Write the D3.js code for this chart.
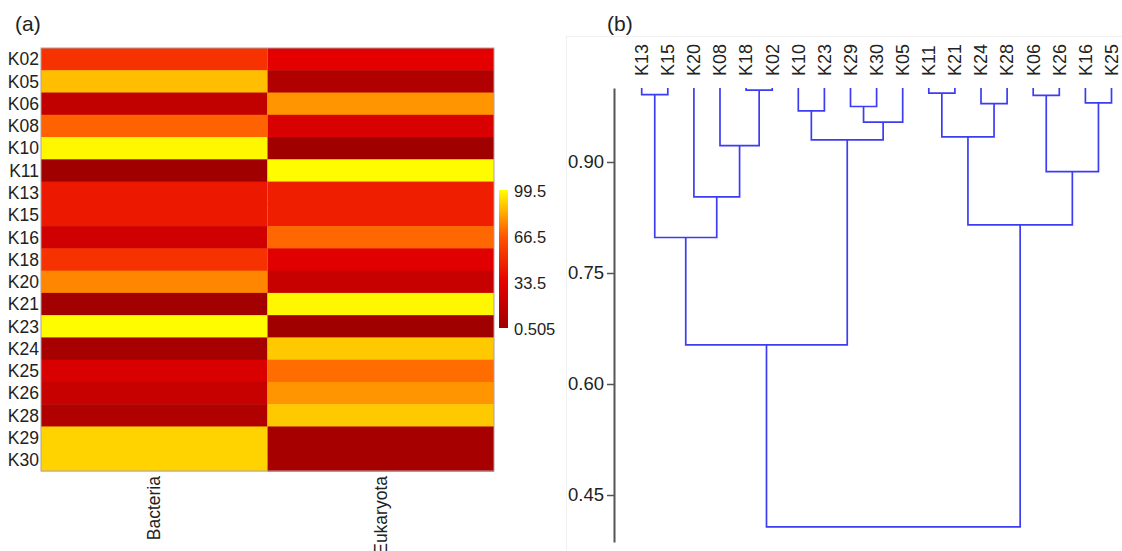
<!DOCTYPE html>
<html lang="en">
<head>
    <meta charset="UTF-8">
    <title>Heatmap and dendrogram</title>
    <script src="https://d3js.org/d3.v7.min.js"></script>
    <style>
        body { margin: 0; background: #fff; }
        text { font-family: "Liberation Sans", Arial, sans-serif; fill: #222; }
    </style>
</head>
<body>
    <svg width="1122" height="551"></svg>
    <script type="text/javascript">
        // rows of the heatmap (top to bottom)
        var samples = ["K02", "K05", "K06", "K08", "K10", "K11", "K13", "K15", "K16", "K18",
                       "K20", "K21", "K23", "K24", "K25", "K26", "K28", "K29", "K30"];
        var domains = ["Bacteria", "Eukaryota"];
        var bacteria  = [53, 87, 16, 69, 98, 1, 43, 43, 23, 53, 76, 2, 99, 4, 27, 19, 8, 91, 91];
        var eukaryota = [33, 8, 79, 27, 1, 99, 45, 45, 70, 31, 19, 98, 1, 89, 71, 79, 89, 4, 4];
        var legendTicks = [0.505, 33.5, 66.5, 99.5];

        // dendrogram: leaf order and merges [childA, childB, height]
        // a number refers to an earlier row of merges
        var leaves = ["K13", "K15", "K20", "K08", "K18", "K02", "K10", "K23", "K29", "K30",
                      "K05", "K11", "K21", "K24", "K28", "K06", "K26", "K16", "K25"];
        var leafHeight = 1.0;
        var merges = [
            ["K13", "K15", 0.991],  // 0
            ["K18", "K02", 0.997],  // 1
            ["K08", 1, 0.922],      // 2
            ["K20", 2, 0.853],      // 3
            [0, 3, 0.798],          // 4
            ["K10", "K23", 0.969],  // 5
            ["K29", "K30", 0.975],  // 6
            [6, "K05", 0.954],      // 7
            [5, 7, 0.930],          // 8
            [4, 8, 0.653],          // 9
            ["K11", "K21", 0.993],  // 10
            ["K24", "K28", 0.979],  // 11
            [10, 11, 0.934],        // 12
            ["K06", "K26", 0.990],  // 13
            ["K16", "K25", 0.980],  // 14
            [13, 14, 0.887],        // 15
            [12, 15, 0.815],        // 16
            [9, 16, 0.407]          // 17
        ];
        var simTicks = [0.45, 0.60, 0.75, 0.90];

        var svg = d3.select("svg");

        // ---------- (a) heatmap ----------
        var color = d3.scaleLinear()
            .domain([0.505, 33.5, 66.5, 99.5])
            .range(["#a00000", "#e60000", "#ff5500", "#ffff00"])
            .clamp(true);

        var x = d3.scaleBand().domain(domains).range([41, 494]);
        var y = d3.scaleBand().domain(samples).range([48, 471]);

        var cells = [];
        samples.forEach(function(s, i) {
            cells.push({row: s, col: "Bacteria", v: bacteria[i]});
            cells.push({row: s, col: "Eukaryota", v: eukaryota[i]});
        });

        var hm = svg.append("g");
        hm.selectAll("rect.cell")
          .data(cells)
          .enter().append("rect")
          .attr("class", "cell")
          .attr("x", function(d) { return x(d.col); })
          .attr("y", function(d) { return y(d.row); })
          .attr("width", x.bandwidth())
          .attr("height", y.bandwidth() + 0.5)
          .attr("fill", function(d) { return color(d.v); });

        hm.append("rect")
          .attr("x", 41).attr("y", 48)
          .attr("width", 453).attr("height", 423)
          .attr("fill", "none")
          .attr("stroke", "#b0a0a0")
          .attr("stroke-width", 1);

        // row labels
        hm.selectAll("text.row")
          .data(samples)
          .enter().append("text")
          .attr("class", "row")
          .attr("x", 39)
          .attr("y", function(d) { return y(d) + y.bandwidth() / 2; })
          .attr("dy", "0.36em")
          .attr("text-anchor", "end")
          .attr("font-size", "17.5px")
          .text(function(d) { return d; });

        // column labels
        hm.selectAll("text.col")
          .data(domains)
          .enter().append("text")
          .attr("class", "col")
          .attr("transform", function(d) {
              return "translate(" + (x(d) + x.bandwidth() / 2) + ",476) rotate(-90)";
          })
          .attr("dy", "0.35em")
          .attr("text-anchor", "end")
          .attr("font-size", "17.5px")
          .text(function(d) { return d; });

        // colour legend
        var ly = d3.scaleLinear().domain([0.505, 99.5]).range([328, 190]);
        var grad = svg.append("defs").append("linearGradient")
            .attr("id", "heat").attr("x1", 0).attr("y1", 1).attr("x2", 0).attr("y2", 0);
        d3.range(0, 1.0001, 0.05).forEach(function(t) {
            var v = 0.505 + t * (99.5 - 0.505);
            grad.append("stop").attr("offset", t).attr("stop-color", color(v));
        });
        svg.append("rect")
           .attr("x", 499).attr("y", 190)
           .attr("width", 9).attr("height", 138)
           .attr("fill", "url(#heat)");
        svg.selectAll("text.leg")
           .data(legendTicks)
           .enter().append("text")
           .attr("class", "leg")
           .attr("x", 514)
           .attr("y", function(d) { return ly(d) + 1; })
           .attr("dy", "0.35em")
           .attr("font-size", "16.5px")
           .text(function(d) { return d; });

        svg.append("text").attr("x", 15).attr("y", 31)
           .attr("font-size", "21px").text("(a)");

        // ---------- (b) dendrogram ----------
        svg.append("rect")
           .attr("x", 566.5).attr("y", 36.5)
           .attr("width", 560).attr("height", 520)
           .attr("fill", "none")
           .attr("stroke", "#f0f0f0");

        svg.append("text").attr("x", 607).attr("y", 31)
           .attr("font-size", "21px").text("(b)");

        var lx = d3.scalePoint().domain(leaves).range([641.7, 1111.5]);
        var hy = d3.scaleLinear().domain([1.0, 0.3865]).range([88, 542]);

        var nodes = [];
        function pos(c) {
            if (typeof c === "number") return nodes[c];
            return {x: lx(c), h: leafHeight};
        }
        var paths = [];
        merges.forEach(function(m) {
            var a = pos(m[0]), b = pos(m[1]);
            nodes.push({x: (a.x + b.x) / 2, h: m[2]});
            paths.push("M" + a.x + "," + hy(a.h) + "V" + hy(m[2]) +
                       "H" + b.x + "V" + hy(b.h));
        });

        svg.append("g").selectAll("path")
           .data(paths)
           .enter().append("path")
           .attr("d", function(d) { return d; })
           .attr("fill", "none")
           .attr("stroke", "#3c3cf2")
           .attr("stroke-width", 1.7);

        // leaf labels
        svg.selectAll("text.leaf")
           .data(leaves)
           .enter().append("text")
           .attr("class", "leaf")
           .attr("transform", function(d) { return "translate(" + lx(d) + ",76) rotate(-90)"; })
           .attr("dy", "0.35em")
           .attr("font-size", "18px")
           .text(function(d) { return d; });

        // similarity axis
        var axis = svg.append("g")
            .attr("transform", "translate(614,0)")
            .call(d3.axisLeft(hy)
                    .tickValues(simTicks)
                    .tickFormat(d3.format(".2f"))
                    .tickSize(7)
                    .tickSizeOuter(0)
                    .tickPadding(3));
        axis.select(".domain").attr("stroke", "#555").attr("stroke-width", 2);
        axis.selectAll(".tick line").attr("stroke", "#555").attr("stroke-width", 1.5);
        axis.selectAll(".tick text")
            .attr("font-size", "18.5px")
            .attr("font-family", "'Liberation Sans', Arial, sans-serif")
            .attr("fill", "#333");
    </script>
</body>
</html>
